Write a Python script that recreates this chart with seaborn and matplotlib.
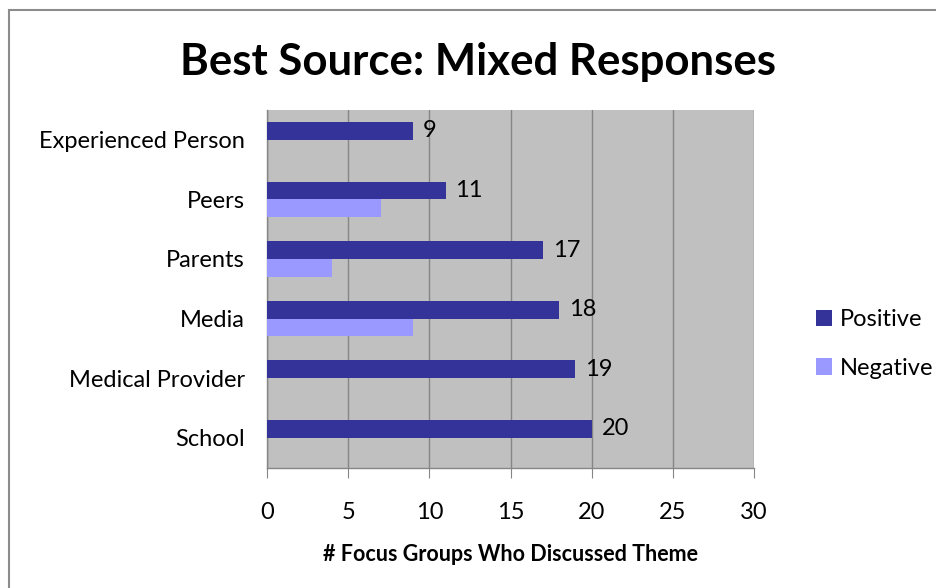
import matplotlib
matplotlib.use("Agg")
import matplotlib.pyplot as plt
import seaborn as sns
import pandas as pd
from matplotlib.patches import Patch, Rectangle

categories = ["Experienced Person", "Peers", "Parents", "Media", "Medical Provider", "School"]
positive = [9, 11, 17, 18, 19, 20]
negative = [0, 7, 4, 9, 0, 0]
series_names = ["Positive", "Negative"]
colors = ["#333399", "#9999FF"]
xticks = [0, 5, 10, 15, 20, 25, 30]

df = pd.DataFrame({
    "category": categories * 2,
    "value": positive + negative,
    "series": [series_names[0]] * len(categories) + [series_names[1]] * len(categories),
})

sns.set_style("white")
plt.rcParams["font.family"] = ["Lato", "DejaVu Sans"]
plt.rcParams["text.color"] = "black"
plt.rcParams["xtick.color"] = "black"
plt.rcParams["ytick.color"] = "black"
plt.rcParams["axes.labelcolor"] = "black"

fig = plt.figure(figsize=(9.36, 5.88), dpi=100)
ax = fig.add_axes([267 / 936, 1 - 467.5 / 588, (754 - 267) / 936, (467.5 - 110) / 588])

sns.barplot(data=df, y="category", x="value", hue="series", order=categories,
            hue_order=series_names, palette=colors, orient="h", width=0.6,
            saturation=1, ax=ax, legend=False, zorder=3, linewidth=0, edgecolor="none")

ax.set_facecolor("#C0C0C0")
ax.set_xlim(0, 30)
ax.set_ylim(len(categories) - 0.5, -0.5)
ax.set_xticks(xticks)
ax.set_xticklabels([str(t) for t in xticks])
ax.grid(axis="x", color="#868686", linewidth=1, zorder=0)
ax.set_axisbelow(True)
for s in ["top", "right"]:
    ax.spines[s].set_visible(False)
for s in ["left", "bottom"]:
    ax.spines[s].set_color("#868686")
    ax.spines[s].set_linewidth(1)
ax.tick_params(axis="x", which="both", bottom=True, length=7, color="#868686",
               labelcolor="black", labelsize=17, pad=18)
ax.tick_params(axis="y", left=False, length=0, labelcolor="black", labelsize=17, pad=16)
ax.set_ylabel("")
ax.set_xlabel("# Focus Groups Who Discussed Theme", fontsize=15.5, fontweight="bold",
              labelpad=15, color="black")

ax.bar_label(ax.containers[0], labels=[str(v) for v in positive], padding=7, fontsize=17,
             color="black")

handles = [Patch(facecolor=c, edgecolor="none", label=n) for c, n in zip(colors, series_names)]
leg = fig.legend(handles=handles, loc="center left", bbox_to_anchor=(795 / 936, 1 - 344 / 588),
                 frameon=False, fontsize=17, handlelength=0.68, handleheight=0.68,
                 handletextpad=0.3, labelspacing=1.17)

fig.text(478 / 936, 1 - 62 / 588, "Best Source: Mixed Responses", ha="center", va="center",
         fontsize=31.5, fontweight="bold", color="black")

fig.patches.append(Rectangle((9 / 936, -0.1), 1.2, 1 - 9.5 / 588 + 0.1, transform=fig.transFigure,
                             fill=False, edgecolor="#8C8C8C", linewidth=1.5, zorder=0))

fig.savefig("out.png", dpi=100)
